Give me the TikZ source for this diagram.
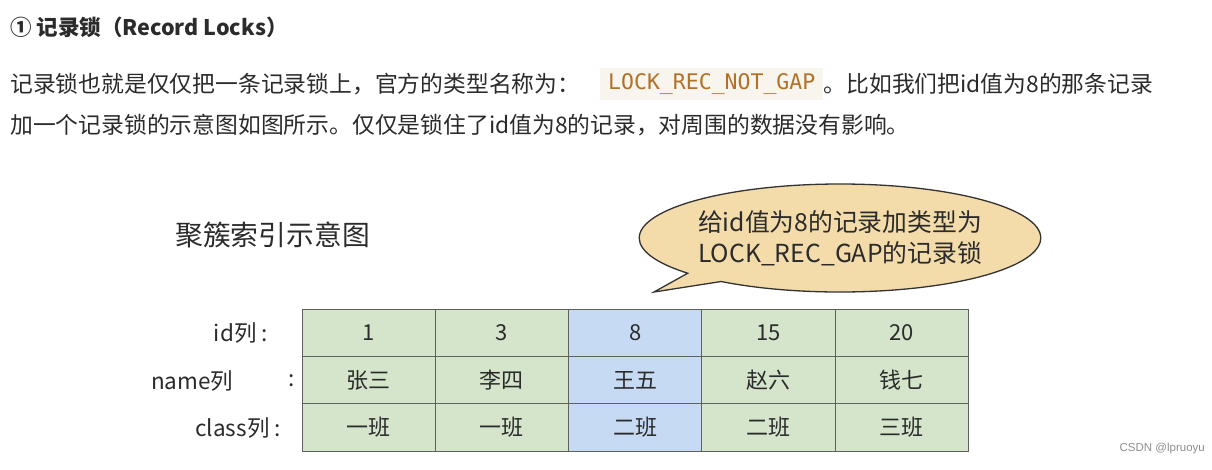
\documentclass[tikz,border=0pt]{standalone}
\usepackage{fontspec}
\setmainfont{Noto Sans CJK SC}
\newfontfamily\codefont{DejaVu Sans Mono}
\newfontfamily\wmfont{Liberation Sans}
\usetikzlibrary{shapes.callouts}
\definecolor{txt}{HTML}{2B2B2B}
\definecolor{cellg}{HTML}{D4E5CB}
\definecolor{cellb}{HTML}{C6DAF3}
\definecolor{cellline}{HTML}{5E625C}
\definecolor{bubblefill}{HTML}{F3DBAA}
\definecolor{codetxt}{HTML}{B27128}
\definecolor{codebg}{HTML}{F8F4EE}
\tikzset{
  para/.style={anchor=west, inner sep=0pt, text=txt, font=\fontsize{22.8}{27}\selectfont},
  cell/.style={draw=cellline, line width=0.9pt, minimum width=133.3pt, minimum height=47.33pt, inner sep=0pt, text=txt, font=\fontsize{22}{26}\selectfont},
  rowlabel/.style={inner sep=0pt, text=txt, font=\fontsize{22.5}{26}\selectfont},
  bubble/.style={ellipse callout, draw=black!80, line width=1.3pt, fill=bubblefill, minimum width=356pt, minimum height=108pt, callout pointer arc=13, align=center, text=txt, font=\fontsize{24.8}{31}\selectfont, inner sep=0pt}
}
\begin{document}
\begin{tikzpicture}[x=1pt,y=-1pt]
\useasboundingbox (0,0) rectangle (1212,469);
% title
\node[anchor=west, inner sep=0pt, text=txt, font=\fontsize{21.5}{25}\selectfont\bfseries] (title) at (10,27) {① 记录锁（Record Locks）};
% paragraph
\node[para] (p1a) at (10,84) {记录锁也就是仅仅把一条记录锁上，官方的类型名称为：};
\node[anchor=west, fill=codebg, inner xsep=8pt, minimum height=32pt, text=codetxt, font=\codefont\fontsize{21.5}{26}\selectfont] (code) at (600,84) {LOCK\_REC\_NOT\_GAP};
\node[para] (p1b) at (code.east) {。比如我们把id值为8的那条记录};
\node[para] (p2) at (10,125) {加一个记录锁的示意图如图所示。仅仅是锁住了id值为8的记录，对周围的数据没有影响。};
% diagram title
\node[anchor=west, inner sep=0pt, text=txt, font=\fontsize{27.8}{32}\selectfont] (dtitle) at (175,235) {聚簇索引示意图};
% bubble
\coordinate (tip) at (654,292);
\node[bubble, callout absolute pointer={(tip)}] (bub) at (840,238) {给id值为8的记录加类型为\\LOCK\_REC\_GAP的记录锁};
% row labels
\node[rowlabel, anchor=east] (lid) at (268,333) {id列 :};
\node[rowlabel, anchor=west] (lname) at (151,381) {name列};
\node[rowlabel] (lnamec) at (292,381) {:};
\node[rowlabel, anchor=east] (lclass) at (281,428) {class列 :};
% table
\foreach \a/\b/\c/\col [count=\i from 0] in {1/张三/一班/cellg, 3/李四/一班/cellg, 8/王五/二班/cellb, 15/赵六/二班/cellg, 20/钱七/三班/cellg} {
  \node[cell, fill=\col] (id\i) at (368.65+133.3*\i, 332.67) {\a};
  \node[cell, fill=\col] (nm\i) at (368.65+133.3*\i, 380) {\b};
  \node[cell, fill=\col] (cl\i) at (368.65+133.3*\i, 427.33) {\c};
}
% watermark
\node[anchor=east, inner sep=0pt, text=black!45, font=\wmfont\fontsize{11.5}{13}\selectfont] (wm) at (1205,449) {CSDN @lpruoyu};
\end{tikzpicture}
\end{document}
